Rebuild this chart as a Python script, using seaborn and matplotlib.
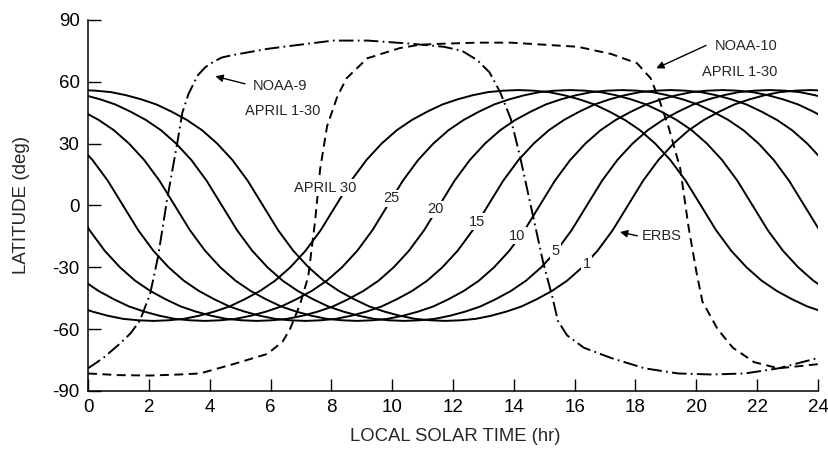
import numpy as np
import pandas as pd
import matplotlib
matplotlib.use("Agg")
import matplotlib.pyplot as plt
import seaborn as sns

# ---------------- data ----------------
# ERBS: April days and local solar time (hr) of the ascending equator crossing
erbs_days = [1, 5, 10, 15, 20, 25, 30]
erbs_ascending_lst = [17.75, 16.4, 14.85, 13.15, 11.55, 9.85, 8.15]
# ERBS latitude profile vs time (hr) from the ascending equator crossing
profile_dt = [-12.0, -11.5, -11.0, -10.5, -10.0, -9.5, -9.0, -8.5, -8.0, -7.5,
              -7.0, -6.5, -6.0, -5.5, -5.0, -4.5, -4.0, -3.5, -3.0, -2.5,
              -2.0, -1.5, -1.0, -0.5, 0.0, 0.5, 1.0, 1.5, 2.0, 2.5,
              3.0, 3.5, 4.0, 4.5, 5.0, 5.5, 6.0, 6.5, 7.0, 7.5,
              8.0, 8.5, 9.0, 9.5, 10.0, 10.5, 11.0, 11.5, 12.0]
profile_lat = [0, -12, -22, -30, -36.5, -41.5, -45.5, -49, -51.5, -53.5,
               -55, -55.7, -56, -55.7, -55, -53.5, -51.5, -49, -45.5, -41.5,
               -36.5, -30, -22, -12, 0, 12, 22, 30, 36.5, 41.5,
               45.5, 49, 51.5, 53.5, 55, 55.7, 56, 55.7, 55, 53.5,
               51.5, 49, 45.5, 41.5, 36.5, 30, 22, 12, 0]

# NOAA-9 (dash-dot)
noaa9_lst = [0, 0.5, 1.05, 1.4, 1.7, 2.04, 2.3, 2.6, 2.93, 3.1, 3.3, 3.6, 3.85, 4.1,
             4.4, 4.77, 5.9, 6.97, 8.06, 9.2, 10.6, 11.7, 12.3, 12.8, 13.2, 13.55,
             13.9, 14.2, 14.6, 14.97, 15.26, 15.45, 15.75, 16.3, 17.2, 18.3,
             19.4, 20.5, 21.6, 22.7, 24]
noaa9_lat = [-79, -74, -67, -62, -56, -43, -25, 3, 30, 45, 54, 63, 67, 69.5,
             71.8, 73, 76, 78, 80, 80, 78.5, 77, 75, 70.5, 64.6, 55,
             42, 24, -3, -28, -44, -56, -63, -69, -74, -79,
             -81.5, -82, -81.5, -79, -74]

# NOAA-10 (dashed)
noaa10_lst = [0, 1, 2.04, 3, 3.68, 4.77, 5.9, 6.4, 6.64, 6.97, 7.24, 7.47, 7.63,
              7.86, 8.2, 8.5, 9.18, 10.26, 10.92, 11.7, 12.8, 13.9, 15.0, 16.1,
              17.2, 18.05, 18.5, 18.8, 19.1, 19.47, 19.74, 20.0, 20.2, 20.7,
              21.2, 21.9, 22.7, 24]
noaa10_lat = [-81.5, -82.3, -82.5, -82, -81.5, -77, -72, -66, -60, -48, -34.5, -7, 17.5,
              38.5, 53, 61.7, 71.4, 76.4, 78, 78.5, 79, 79, 78, 77,
              73.5, 69, 61.7, 50.5, 37.4, 18, -10, -32, -46.6, -60,
              -69, -76, -79, -77]

x_ticks = [0, 2, 4, 6, 8, 10, 12, 14, 16, 18, 20, 22, 24]
x_tick_labels = ["0", "2", "4", "6", "8", "10", "12", "14", "16", "18", "20", "22", "24"]
y_ticks = [-90, -60, -30, 0, 30, 60, 90]
y_tick_labels = ["-90", "-60", "-30", "0", "30", "60", "90"]

# ERBS day labels: (text, lst, lat)
day_label_text = ["APRIL 30", "25", "20", "15", "10", "5", "1"]
day_label_x = [7.8, 9.97, 11.41, 12.8, 14.1, 15.36, 16.4]
day_label_y = [8.7, 3.4, -1.9, -7.8, -14.6, -22.3, -28.6]

# ---------------- figure ----------------
sns.set_theme(style="ticks")
plt.rcParams["font.family"] = ["Liberation Sans", "DejaVu Sans"]
plt.rcParams["axes.unicode_minus"] = False

fig = plt.figure(figsize=(8.29, 4.54), dpi=100)
ax = fig.add_axes([0.1062, 0.1388, 0.8805, 0.8172])

rows = []
for day, c in zip(erbs_days, erbs_ascending_lst):
    for k, shift in enumerate((-24, 0, 24)):
        for dt, lat in zip(profile_dt, profile_lat):
            rows.append({"unit": f"{day}_{k}", "lst": c + dt + shift, "lat": lat})
erbs_df = pd.DataFrame(rows)

LW = 1.4
sns.lineplot(data=erbs_df, x="lst", y="lat", units="unit", estimator=None,
             color="black", lw=LW, legend=False, ax=ax)

n9 = pd.DataFrame({"lst": noaa9_lst, "lat": noaa9_lat})
n10 = pd.DataFrame({"lst": noaa10_lst, "lat": noaa10_lat})
sns.lineplot(data=n9, x="lst", y="lat", color="black", lw=LW,
             linestyle=(0, (7.5, 2.2, 0.9, 2.2)), ax=ax)
sns.lineplot(data=n10, x="lst", y="lat", color="black", lw=LW,
             linestyle=(0, (4.6, 2.8)), ax=ax)

ax.set_xlim(0, 24)
ax.set_ylim(-90, 90)
ax.set_xticks(x_ticks)
ax.set_xticklabels(x_tick_labels)
ax.set_yticks(y_ticks)
ax.set_yticklabels(y_tick_labels)
ax.tick_params(axis="both", direction="in", length=9, width=1.0,
               labelsize=13.5, pad=6, colors="black")
for s in ("top", "right"):
    ax.spines[s].set_visible(False)
for s in ("left", "bottom"):
    ax.spines[s].set_linewidth(1.1)
    ax.spines[s].set_color("black")
ax.grid(False)

ax.set_xlabel("LOCAL SOLAR TIME (hr)", fontsize=13.3)
ax.set_ylabel("LATITUDE (deg)", fontsize=13.5)
ax.xaxis.set_label_coords(0.503, -0.1)
ax.yaxis.set_label_coords(-0.08, 0.5)

box = dict(facecolor="white", edgecolor="none", pad=1.2)
for t, x, y in zip(day_label_text, day_label_x, day_label_y):
    ax.text(x, y, t, ha="center", va="center", fontsize=10.5, bbox=box, zorder=5)

ax.text(5.4, 57.8, "NOAA-9", ha="left", va="center", fontsize=10.5)
ax.text(5.16, 45.6, "APRIL 1-30", ha="left", va="center", fontsize=10.5)
ax.annotate("", xy=(4.1, 63.0), xytext=(5.25, 58.7),
            arrowprops=dict(arrowstyle="-|>", color="black", lw=1.0, mutation_scale=11))

ax.text(20.6, 77.2, "NOAA-10", ha="left", va="center", fontsize=10.5)
ax.text(20.2, 65.0, "APRIL 1-30", ha="left", va="center", fontsize=10.5)
ax.annotate("", xy=(18.6, 66.0), xytext=(20.4, 78.2),
            arrowprops=dict(arrowstyle="-|>", color="black", lw=1.0, mutation_scale=11))

ax.text(18.2, -15.0, "ERBS", ha="left", va="center", fontsize=10.5)
ax.annotate("", xy=(17.4, -12.6), xytext=(18.15, -15.0),
            arrowprops=dict(arrowstyle="-|>", color="black", lw=1.0, mutation_scale=11))

fig.savefig("out.png", dpi=100)
